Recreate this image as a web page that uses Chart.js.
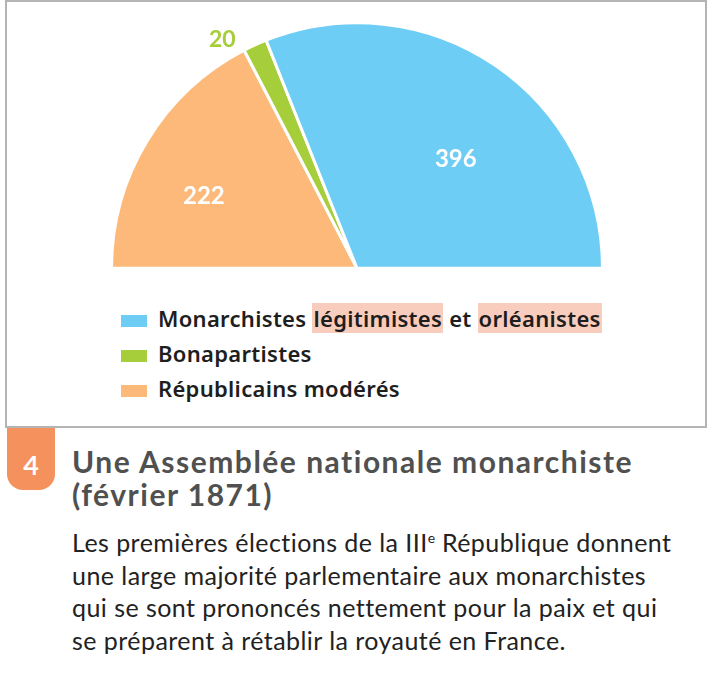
<!DOCTYPE html>
<html lang="fr">
<head>
<meta charset="utf-8">
<title>Une Assemblée nationale monarchiste</title>
<script src="https://cdn.jsdelivr.net/npm/chart.js@4.4.1/dist/chart.umd.min.js"></script>
<style>
  html, body { margin: 0; padding: 0; background: #fff; }
  body { width: 709px; height: 680px; position: relative; overflow: hidden; font-family: Lato, "Noto Sans", sans-serif; }
  #frame { position: absolute; left: 5px; top: 0; width: 702px; height: 428px; border: 2px solid #b4b4b4; box-sizing: border-box; }
  #chartBox { position: absolute; left: 100px; top: 10px; width: 520px; height: 270px; }
  .legend-row { position: absolute; left: 121px; height: 35px; line-height: 35px; font-family: "Noto Sans", sans-serif; font-size: 22px; font-weight: 600; color: #1e1e1e; white-space: nowrap; letter-spacing: 0.3px; }
  .legend-row .sw { display: inline-block; width: 26px; height: 12px; margin-right: 11px; vertical-align: 0px; }
  .hl { background: #f9cdbd; padding: 0 1px; }
  #badge { position: absolute; left: 7px; top: 428px; width: 48px; height: 62px; background: #f4915d; border-radius: 0 0 16px 16px; color: #fff; font-weight: 700; font-size: 27px; text-align: center; line-height: 74px; }
  #title { position: absolute; left: 72px; top: 445px; font-size: 30px; line-height: 33px; font-weight: 700; color: #505050; letter-spacing: 1.5px; }
  #text { position: absolute; left: 72px; top: 526px; font-size: 25px; line-height: 32.5px; color: #222; letter-spacing: 0.45px; }
  #text sup { font-size: 14px; vertical-align: 9px; line-height: 0; letter-spacing: 0; }
</style>
</head>
<body>
<div id="frame"></div>
<div id="chartBox"><canvas id="seatChart"></canvas></div>
<div id="legend"></div>
<div id="badge">4</div>
<div id="title">Une Assemblée nationale monarchiste<br>(février 1871)</div>
<div id="text">Les premières élections de la III<sup>e</sup> République donnent<br>une large majorité parlementaire aux monarchistes<br>qui se sont prononcés nettement pour la paix et qui<br>se préparent à rétablir la royauté en France.</div>

<script>
// Seats in the assembly, drawn left to right around the half circle
const groups = ['Républicains modérés', 'Bonapartistes', 'Monarchistes légitimistes et orléanistes'];
const seats = [222, 20, 396];
const groupColors = ['#fdb979', '#a6cd3a', '#6dcdf5'];

// Legend order (top to bottom) and the words shaded in the first entry
const legendOrder = [2, 1, 0];
const shadedWords = ['légitimistes', 'orléanistes'];

// Label settings per slice: radius fraction, angle nudge (deg), inside/outside
const labelStyle = [
    { r: 0.69, nudge: -6, inside: true },
    { r: 1.08, nudge: -6, inside: false },
    { r: 0.60, nudge: 8, inside: true }
];

// Draw the seat counts on (or next to) each slice
const seatLabels = {
    id: 'seatLabels',
    afterDatasetsDraw(chart) {
        const ctx = chart.ctx;
        const meta = chart.getDatasetMeta(0);
        ctx.save();
        ctx.textAlign = 'center';
        ctx.textBaseline = 'middle';
        meta.data.forEach((arc, i) => {
            const st = labelStyle[i];
            const mid = (arc.startAngle + arc.endAngle) / 2 + st.nudge * Math.PI / 180;
            const r = arc.outerRadius * st.r;
            const x = arc.x + Math.cos(mid) * r;
            const y = arc.y + Math.sin(mid) * r;
            ctx.font = st.inside ? '700 24px Lato' : '700 23px Lato';
            ctx.fillStyle = st.inside ? '#ffffff' : groupColors[i];
            ctx.fillText(String(seats[i]), x, y);
        });
        ctx.restore();
    }
};

const ctx = document.getElementById('seatChart').getContext('2d');
const seatChart = new Chart(ctx, {
    type: 'pie',
    data: {
        labels: groups,
        datasets: [{
            data: seats,
            backgroundColor: groupColors,
            borderColor: '#ffffff',
            borderWidth: 3,
            hoverOffset: 0
        }]
    },
    options: {
        responsive: true,
        maintainAspectRatio: false,
        animation: false,
        rotation: -90,
        circumference: 180,
        layout: { padding: { left: 10, right: 16, top: 11, bottom: 10 } },
        plugins: {
            legend: { display: false },
            tooltip: { enabled: false }
        }
    },
    plugins: [seatLabels]
});

// Build the legend from the same arrays
function shade(text) {
    let html = text;
    shadedWords.forEach(w => {
        html = html.replace(w, '<span class="hl">' + w + '</span>');
    });
    return html;
}

const legendEl = document.getElementById('legend');
legendOrder.forEach((idx, row) => {
    const div = document.createElement('div');
    div.className = 'legend-row';
    div.style.top = (301 + row * 35) + 'px';
    div.innerHTML = '<span class="sw" style="background:' + groupColors[idx] + '"></span>' + shade(groups[idx]);
    legendEl.appendChild(div);
});
</script>
</body>
</html>
